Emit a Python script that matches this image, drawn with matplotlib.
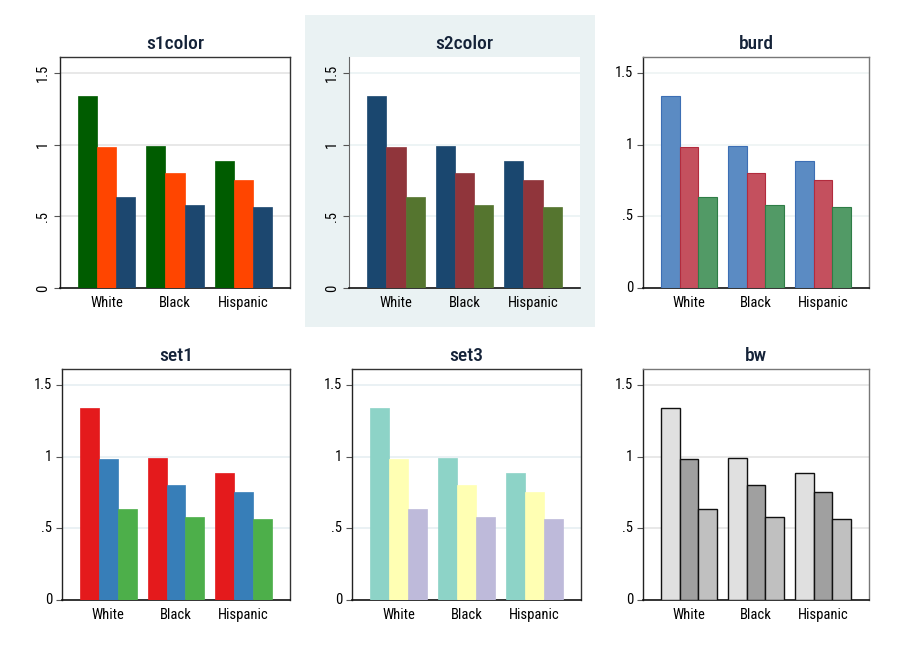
import numpy as np
import matplotlib.pyplot as plt
from matplotlib.patches import Rectangle

plt.rcParams['font.family'] = ['Liberation Sans Narrow', 'Roboto Condensed', 'DejaVu Sans']
plt.rcParams['font.stretch'] = 'condensed'

# data
groups = ['White', 'Black', 'Hispanic']
series1 = [1.335, 0.99, 0.885]
series2 = [0.98, 0.80, 0.755]
series3 = [0.635, 0.58, 0.565]
yticks = [0, 0.5, 1, 1.5]
yticklabels = ['0', '.5', '1', '1.5']

schemes = ['s1color', 's2color', 'burd', 'set1', 'set3', 'bw']
fills = {
    's1color': ['#005c00', '#ff4500', '#1c476f'],
    's2color': ['#1a476f', '#90353b', '#55752f'],
    'burd': ['#5b8bc3', '#c4505e', '#529a66'],
    'set1': ['#e41a1c', '#377eb8', '#4daf4a'],
    'set3': ['#8dd3c7', '#ffffb3', '#bebada'],
    'bw': ['#e0e0e0', '#a0a0a0', '#c0c0c0'],
}
edges = {
    's1color': fills['s1color'],
    's2color': fills['s2color'],
    'burd': ['#3c6eb4', '#b22b3d', '#2e7d46'],
    'set1': fills['set1'],
    'set3': fills['set3'],
    'bw': ['#111111', '#111111', '#111111'],
}
frame_col = {'s1color': '#333333', 's2color': None, 'burd': '#777777',
             'set1': '#333333', 'set3': '#333333', 'bw': '#777777'}
grid_col = {'s1color': '#e4e4e4', 's2color': '#eaf2f3', 'burd': '#eef3f3',
            'set1': '#e6eff2', 'set3': '#e6eff2', 'bw': '#e4e4e4'}

W, H = 902, 656
fig = plt.figure(figsize=(W / 100, H / 100), dpi=100)
fig.patch.set_facecolor('white')

# s2color has its own background panel
fig.patches.append(Rectangle((305 / W, 1 - 327 / H), 290 / W, 312 / H,
                             transform=fig.transFigure, facecolor='#eaf2f3',
                             edgecolor='none', zorder=0))

# axes boxes in pixels: left, right, top, bottom
boxes = {
    's1color': (60, 290, 57, 288),
    's2color': (349, 580, 57, 288),
    'burd': (643, 869, 57, 288),
    'set1': (62, 290, 369, 600),
    'set3': (352, 581, 369, 600),
    'bw': (643, 869, 369, 600),
}

x = np.arange(len(groups))
w = 0.28
vals = [series1, series2, series3]

for name in schemes:
    l, r, t, b = boxes[name]
    ax = fig.add_axes([l / W, 1 - b / H, (r - l) / W, (b - t) / H])
    ax.set_zorder(2)
    ax.set_facecolor('white')
    for i in range(3):
        lw = 1.0 if name == 'bw' else (0.8 if name == 'burd' else 0.5)
        ax.bar(x + (i - 1) * w, vals[i], width=w, color=fills[name][i],
               edgecolor=edges[name][i], linewidth=lw, zorder=3)
    ax.set_xlim(-0.685, 2.685)
    ax.set_ylim(0, 1.61)
    ax.set_yticks(yticks)
    rot = 90 if name in ('s1color', 's2color') else 0
    ax.set_yticklabels(yticklabels, rotation=rot, va='center', fontsize=10.5)
    ax.set_xticks(x)
    ax.set_xticklabels(groups, fontsize=10.5)
    ax.tick_params(axis='x', length=0, pad=6)
    ax.tick_params(axis='y', length=4, width=0.8, color='#555555', pad=3)
    for yv in yticks[1:]:
        ax.axhline(yv, color=grid_col[name], lw=1.2, zorder=1)
    ax.spines['bottom'].set_color('#111111')
    ax.spines['bottom'].set_linewidth(1.2)
    if name == 's2color':
        ax.spines['left'].set_color('#666666')
        ax.spines['top'].set_visible(False)
        ax.spines['right'].set_visible(False)
    else:
        for s in ('left', 'top', 'right'):
            ax.spines[s].set_color(frame_col[name])
            ax.spines[s].set_linewidth(1.0)
        ax.spines['left'].set_color('#222222')
    ax.set_title(name, fontsize=14, fontweight='medium', color='#142238', pad=6)

fig.savefig('out.png', dpi=100)
